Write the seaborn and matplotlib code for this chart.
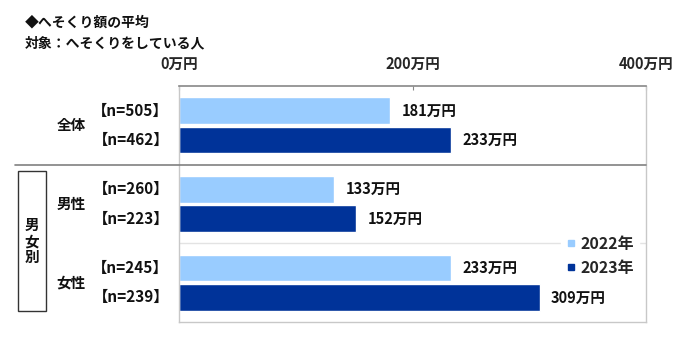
import matplotlib
matplotlib.use("Agg")
import matplotlib.pyplot as plt
import matplotlib.transforms as mtransforms
from matplotlib.lines import Line2D
import seaborn as sns
import pandas as pd

# ---- data ----
categories = ["全体", "男性", "女性"]
years = ["2022年", "2023年"]
values_2022 = [181, 133, 233]
values_2023 = [233, 152, 309]
n_2022 = [505, 260, 245]
n_2023 = [462, 223, 239]
xticks = [0, 200, 400]
xtick_labels = ["0万円", "200万円", "400万円"]
title_lines = ["◆へそくり額の平均", "対象：へそくりをしている人"]
group_box_label = "男\n女\n別"

colors = {"2022年": "#99CCFF", "2023年": "#003399"}

sns.set_theme(style="white")
plt.rcParams["font.family"] = ["Noto Sans CJK JP", "DejaVu Sans"]

df = pd.DataFrame({
    "category": categories * 2,
    "year": [years[0]] * 3 + [years[1]] * 3,
    "value": values_2022 + values_2023,
})

fig = plt.figure(figsize=(7.0, 3.52), dpi=100)
ax = fig.add_axes([179 / 700, 1 - 322 / 352, (646 - 179) / 700, (322 - 86) / 352])

sns.barplot(data=df, y="category", x="value", hue="year", orient="h",
            palette=colors, width=0.75, gap=0.1, ax=ax, legend=False,
            saturation=1, order=categories, hue_order=years)

ax.set_xlim(0, 400)
ax.set_ylim(2.5, -0.5)
ax.set_xlabel("")
ax.set_ylabel("")
ax.set_yticks([])
ax.set_xticks(xticks)
ax.set_xticklabels(xtick_labels, fontsize=10.5, fontweight="bold")
ax.xaxis.tick_top()
ax.tick_params(axis="x", which="both", top=True, bottom=False, labeltop=True,
               labelbottom=False, direction="in", length=3, width=0.8,
               color="#888888", pad=10)

for side in ["left", "right", "bottom"]:
    ax.spines[side].set_color("#C8C8C8")
    ax.spines[side].set_linewidth(1.0)
ax.spines["top"].set_color("#888888")
ax.spines["top"].set_linewidth(1.2)

# value labels
for cont in ax.containers:
    ax.bar_label(cont, fmt="{:.0f}万円", padding=8, fontsize=10.5,
                 fontweight="bold", color="#111111")

# n labels
trans_fd = mtransforms.blended_transform_factory(fig.transFigure, ax.transData)
for cont, ns in zip(ax.containers, [n_2022, n_2023]):
    for patch, n in zip(cont.patches, ns):
        yc = patch.get_y() + patch.get_height() / 2
        ax.text(169 / 700, yc, f"【n={n}】", transform=trans_fd, ha="right",
                va="center", fontsize=11, fontweight="bold", color="#111111")

# category labels
for i, c in enumerate(categories):
    ax.text(71 / 700, i, c, transform=trans_fd, ha="center", va="center",
            fontsize=10.5, fontweight="bold", color="#111111")

# separators
ax.add_line(Line2D([15 / 700, 646 / 700], [0.5, 0.5], transform=trans_fd,
                   color="#808080", lw=1.2, clip_on=False, zorder=5))
ax.axhline(1.5, color="#E3E3E3", lw=1.0, zorder=0.5)

# group box
fig.patches.append(plt.Rectangle((18 / 700, 1 - 311 / 352), 28 / 700, 140 / 352,
                                 transform=fig.transFigure, fill=False,
                                 edgecolor="#333333", lw=1.0))
fig.text(32 / 700, 1 - 241 / 352, group_box_label, ha="center", va="center",
         fontsize=10.5, fontweight="bold", linespacing=1.0, color="#111111")

# titles
fig.text(25 / 700, 1 - 23 / 352, title_lines[0], ha="left", va="center",
         fontsize=10, fontweight="bold", color="#111111")
fig.text(25 / 700, 1 - 43 / 352, title_lines[1], ha="left", va="center",
         fontsize=10, fontweight="bold", color="#111111")

# legend
handles = [Line2D([], [], marker="s", linestyle="", markersize=5,
                  markerfacecolor=colors[y], markeredgecolor=colors[y]) for y in years]
leg = ax.legend(handles, years, loc="center", bbox_to_anchor=(600 / 700, 1 - 256 / 352),
                bbox_transform=fig.transFigure, frameon=True,
                handlelength=0.6, handletextpad=0.3, labelspacing=0.5,
                borderpad=0.3, prop={"size": 11.5, "weight": "bold"})
leg.get_frame().set_facecolor("white")
leg.get_frame().set_edgecolor("white")
leg.get_frame().set_alpha(1)
leg.set_zorder(10)

fig.savefig("out.png", dpi=100, facecolor="white")
